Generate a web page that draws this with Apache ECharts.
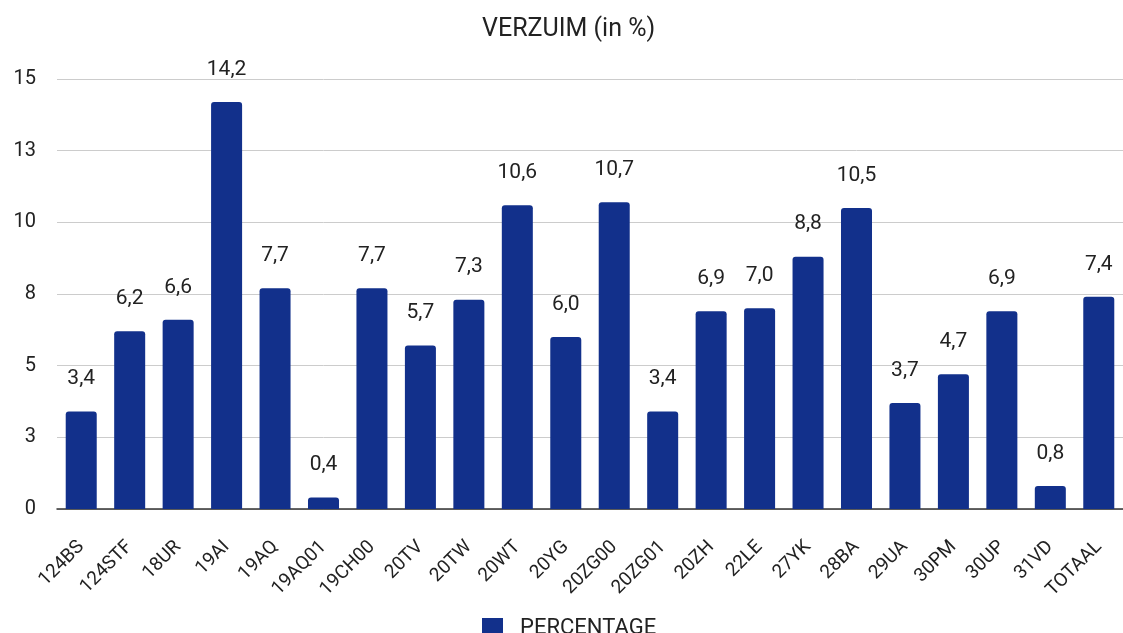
<!DOCTYPE html>
<html>
<head>
<meta charset="utf-8">
<script src="https://cdn.jsdelivr.net/npm/echarts@6/dist/echarts.min.js"></script>
<style>html,body{margin:0;padding:0;background:#fff;}#c{width:1123px;height:633px;}</style>
</head>
<body>
<div id="c"></div>
<script>
const categories = ['124BS','124STF','18UR','19AI','19AQ','19AQ01','19CH00','20TV','20TW','20WT','20YG','20ZG00','20ZG01','20ZH','22LE','27YK','28BA','29UA','30PM','30UP','31VD','TOTAAL'];
const percentage = [3.4,6.2,6.6,14.2,7.7,0.4,7.7,5.7,7.3,10.6,6.0,10.7,3.4,6.9,7.0,8.8,10.5,3.7,4.7,6.9,0.8,7.4];
const seriesName = 'PERCENTAGE';
const titleText = 'VERZUIM (in %)';

const chart = echarts.init(document.getElementById('c'), null, {renderer: 'canvas'});
chart.setOption({
  backgroundColor: '#ffffff',
  textStyle: {fontFamily: 'Roboto'},
  title: {
    text: titleText, left: 477, top: 12,
    textStyle: {fontFamily: 'Roboto', fontSize: 25, fontWeight: 'normal', color: '#222'}
  },
  legend: {
    data: [seriesName], top: 612, left: 477,
    icon: 'rect', itemWidth: 21, itemHeight: 20, itemGap: 16,
    textStyle: {fontFamily: 'Roboto', fontSize: 22, color: '#222', padding: [0, 0, 0, 12]}
  },
  grid: {left: 57, right: -5, top: 79, bottom: 124, containLabel: false},
  xAxis: {
    type: 'category', data: categories,
    axisLine: {lineStyle: {color: '#333', width: 1.5}},
    axisTick: {show: false},
    axisLabel: {rotate: 45, fontSize: 19, color: '#222', margin: 35, interval: 0, fontFamily: 'Roboto'}
  },
  yAxis: {
    type: 'value', min: 0, max: 15, interval: 2.5,
    axisLine: {show: false}, axisTick: {show: false},
    splitLine: {lineStyle: {color: '#cccccc', width: 1}},
    axisLabel: {fontSize: 20, color: '#222', margin: 21, fontFamily: 'Roboto',
      formatter: v => String(Math.round(v))}
  },
  series: [{
    name: seriesName, type: 'bar', data: percentage,
    barWidth: '64%',
    itemStyle: {color: '#12308b', borderRadius: [3,3,0,0]},
    label: {show: true, position: 'top', distance: 22, fontSize: 21, color: '#222', fontFamily: 'Roboto',
      formatter: p => p.value.toFixed(1).replace('.', ',')}
  }]
});
</script>
</body>
</html>
